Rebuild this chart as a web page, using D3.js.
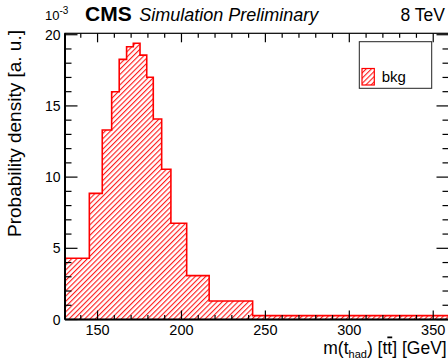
<!DOCTYPE html>
<html>
<head>
<meta charset="utf-8">
<script src="https://cdn.jsdelivr.net/npm/d3@7/dist/d3.min.js"></script>
<style>
  html, body { margin: 0; padding: 0; background: #fff; }
  svg { display: block; font-family: "Liberation Sans", Arial, Helvetica, sans-serif; }
</style>
</head>
<body>
<svg id="chart" width="448" height="361"></svg>
<script>
// Hadronic top mass, variable-width bins (GeV) and probability density (x 10^-3)
const binEdges = [130.6, 145.1, 152.8, 158.4, 162.9, 167.3, 171.3, 175.3, 179.3, 183.2, 188.2, 193.7, 203.1, 216.5, 242.4, 359.4];
const density  = [4.30, 8.86, 13.31, 16.0, 18.27, 19.16, 19.40, 18.57, 17.01, 14.08, 10.55, 6.76, 3.08, 1.30, 0.27];
const xMajorTicks = [150, 200, 250, 300, 350];
const xMinorTicks = d3.range(140, 360, 10);
const yMajorTicks = [0, 5, 10, 15, 20];
const yMinorTicks = d3.range(0, 21, 1);
const seriesName = "bkg";

const svg = d3.select("#chart");
const frame = { left: 65, right: 449, top: 33.3, bottom: 319.5 };
const red = "#ff0000";

const x = d3.scaleLinear().domain([binEdges[0], binEdges[binEdges.length - 1]]).range([frame.left, frame.right]);
const y = d3.scaleLinear().domain([0, 20.1]).range([frame.bottom, frame.top]);

// hatch pattern (///)
const defs = svg.append("defs");
const pat = defs.append("pattern")
  .attr("id", "hatch")
  .attr("patternUnits", "userSpaceOnUse")
  .attr("width", 3.7).attr("height", 10)
  .attr("patternTransform", "rotate(45)");
pat.append("line").attr("x1", 0.6).attr("y1", 0).attr("x2", 0.6).attr("y2", 10)
  .attr("stroke", red).attr("stroke-width", 1);

defs.append("clipPath").attr("id", "plotclip")
  .append("rect").attr("x", frame.left).attr("y", frame.top - 2)
  .attr("width", frame.right - frame.left).attr("height", frame.bottom - frame.top + 2);

// histogram points for step drawing
const pts = density.map((v, i) => [binEdges[i], v]);
pts.push([binEdges[binEdges.length - 1], density[density.length - 1]]);

const area = d3.area().curve(d3.curveStepAfter)
  .x(d => x(d[0])).y0(y(0)).y1(d => y(d[1]));
const line = d3.line().curve(d3.curveStepAfter)
  .x(d => x(d[0])).y(d => y(d[1]));

const g = svg.append("g").attr("clip-path", "url(#plotclip)");
g.append("path").datum(pts).attr("d", area).attr("fill", "url(#hatch)");
g.append("path").datum(pts).attr("d", line)
  .attr("fill", "none").attr("stroke", red).attr("stroke-width", 1.6);

// frame
svg.append("rect")
  .attr("x", frame.left).attr("y", frame.top)
  .attr("width", frame.right - frame.left).attr("height", frame.bottom - frame.top)
  .attr("fill", "none").attr("stroke", "#000").attr("stroke-width", 1.2);
svg.append("line").attr("x1", frame.left).attr("x2", frame.right)
  .attr("y1", frame.bottom).attr("y2", frame.bottom)
  .attr("stroke", "#000").attr("stroke-width", 2);
svg.append("line").attr("x1", frame.left).attr("x2", frame.left)
  .attr("y1", frame.top).attr("y2", frame.bottom)
  .attr("stroke", "#000").attr("stroke-width", 2);

// x axis ticks (bottom and top, pointing inward)
function xTicks(vals, len) {
  const sel = svg.append("g");
  vals.forEach(v => {
    sel.append("line").attr("x1", x(v)).attr("x2", x(v))
      .attr("y1", frame.bottom).attr("y2", frame.bottom - len)
      .attr("stroke", "#000").attr("stroke-width", 1.2);
    sel.append("line").attr("x1", x(v)).attr("x2", x(v))
      .attr("y1", frame.top).attr("y2", frame.top + len)
      .attr("stroke", "#000").attr("stroke-width", 1.2);
  });
}
xTicks(xMinorTicks.filter(v => !xMajorTicks.includes(v)), 4.5);
xTicks(xMajorTicks, 9);

function yTicks(vals, len) {
  const sel = svg.append("g");
  vals.forEach(v => {
    sel.append("line").attr("x1", frame.left).attr("x2", frame.left + len)
      .attr("y1", y(v)).attr("y2", y(v))
      .attr("stroke", "#000").attr("stroke-width", 1.2);
    sel.append("line").attr("x1", frame.right).attr("x2", frame.right - len)
      .attr("y1", y(v)).attr("y2", y(v))
      .attr("stroke", "#000").attr("stroke-width", 1.2);
  });
}
yTicks(yMinorTicks.filter(v => !yMajorTicks.includes(v)), 6.5);
yTicks(yMajorTicks, 12.5);

// tick labels
svg.append("g").selectAll("text").data(xMajorTicks).join("text")
  .attr("x", d => x(d)).attr("y", 335)
  .attr("text-anchor", "middle").attr("font-size", 14.5).text(d => d);
svg.append("g").selectAll("text").data(yMajorTicks).join("text")
  .attr("x", 60.5).attr("y", d => y(d) + 5)
  .attr("text-anchor", "end").attr("font-size", 14).text(d => d);

// axis titles
const xt = svg.append("text").attr("x", 446.7).attr("y", 353.5)
  .attr("text-anchor", "end").attr("font-size", 17.5);
xt.append("tspan").text("m(t");
xt.append("tspan").attr("font-size", 11).attr("dy", 4.5).text("had");
xt.append("tspan").attr("dy", -4.5).text(") [t");
xt.append("tspan").attr("text-decoration", "overline").text("t");
xt.append("tspan").text("] [GeV]");

svg.append("text")
  .attr("transform", "translate(21,30) rotate(-90)")
  .attr("text-anchor", "end").attr("font-size", 19)
  .text("Probability density [a. u.]");

// header
const ex = svg.append("text").attr("x", 45).attr("y", 20).attr("font-size", 13);
ex.append("tspan").text("10");
ex.append("tspan").attr("font-size", 10).attr("dy", -6).text("-3");
svg.append("text").attr("x", 85).attr("y", 20.7)
  .attr("font-size", 21).attr("font-weight", "bold").text("CMS");
svg.append("text").attr("x", 139.3).attr("y", 20.7)
  .attr("font-size", 18).attr("font-style", "italic").text("Simulation Preliminary");
svg.append("text").attr("x", 445).attr("y", 20.7)
  .attr("text-anchor", "end").attr("font-size", 17.5).text("8 TeV");

// legend
const lg = svg.append("g");
lg.append("rect").attr("x", 359.3).attr("y", 41.7).attr("width", 72.4).attr("height", 46.6)
  .attr("fill", "#fff").attr("stroke", "#222").attr("stroke-width", 1);
lg.append("rect").attr("x", 362).attr("y", 68.5).attr("width", 12.3).attr("height", 16.5)
  .attr("fill", "url(#hatch)").attr("stroke", red).attr("stroke-width", 1.2);
lg.append("text").attr("x", 381.7).attr("y", 81.7).attr("font-size", 15).text(seriesName);
</script>
</body>
</html>
